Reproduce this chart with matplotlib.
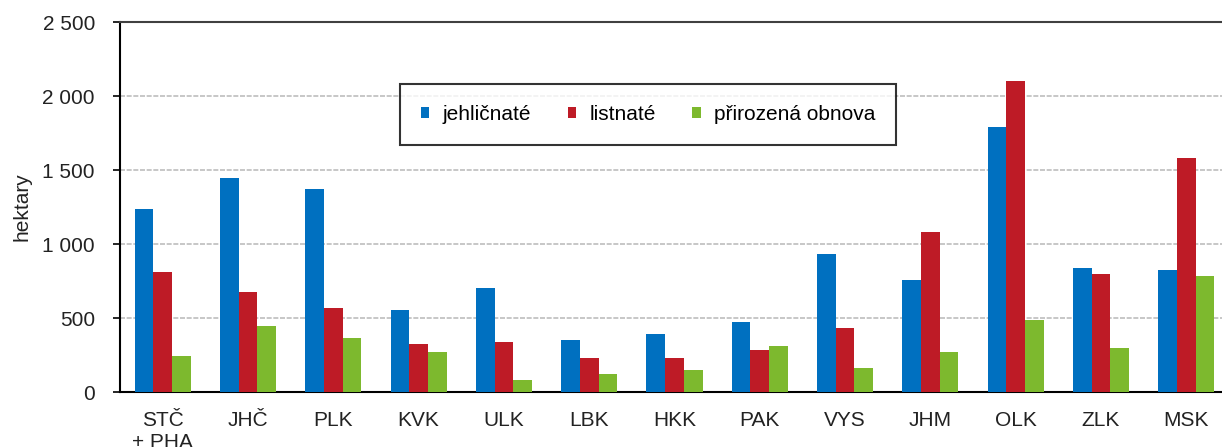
import matplotlib
matplotlib.use("Agg")
import matplotlib.pyplot as plt
from matplotlib.patches import Patch
from matplotlib.ticker import FuncFormatter
import numpy as np

plt.rcParams['font.family'] = ['Liberation Sans', 'DejaVu Sans']

categories = ["STČ\n+ PHA", "JHČ", "PLK", "KVK", "ULK", "LBK", "HKK", "PAK",
              "VYS", "JHM", "OLK", "ZLK", "MSK"]
jehlicnate = [1234, 1448, 1369, 556, 705, 353, 394, 475, 935, 759, 1788, 840, 827]
listnate = [813, 678, 570, 327, 340, 232, 232, 286, 435, 1083, 2101, 800, 1583]
prirozena = [245, 448, 367, 273, 83, 124, 151, 313, 164, 273, 489, 300, 786]
series_names = ["jehličnaté", "listnaté", "přirozená obnova"]
colors = ["#0070C0", "#BE1B26", "#7DB92E"]
yticks = [0, 500, 1000, 1500, 2000, 2500]

W, H = 1222, 447
fig = plt.figure(figsize=(W / 100, H / 100), dpi=100)
ax = fig.add_axes([120 / W, 1 - 392 / H, 1109 / W, 370 / H])

x = np.arange(len(categories))
bw = 0.219
for i, (vals, c) in enumerate(zip([jehlicnate, listnate, prirozena], colors)):
    ax.bar(x + (i - 1) * bw, vals, width=bw, color=c, zorder=3, linewidth=0)

fs = 15
ax.set_xlim(-0.5, len(categories) - 0.5)
ax.set_ylim(0, 2500)
ax.set_yticks(yticks)
ax.yaxis.set_major_formatter(FuncFormatter(lambda v, p: f"{int(v):,}".replace(",", " ")))
ax.set_xticks(x)
ax.set_xticklabels(categories)
ax.tick_params(axis='x', length=0, pad=14, labelsize=fs, colors='#222222')
ax.tick_params(axis='y', length=5, width=1.2, pad=13, labelsize=fs, colors='black',
               labelcolor='#222222')
ax.grid(axis='y', color='#bdbdbd', linestyle=(0, (3, 1)), linewidth=1.2, zorder=0)
for s in ['left', 'bottom']:
    ax.spines[s].set_linewidth(1.5)
    ax.spines[s].set_color('black')
ax.spines['top'].set_linewidth(1.5)
ax.spines['top'].set_color('#404040')
ax.spines['right'].set_visible(False)
ax.set_ylabel("hektary", fontsize=fs, labelpad=8, color='#222222')

handles = [Patch(facecolor=c, edgecolor='none') for c in colors]
leg = ax.legend(handles, series_names, ncol=3, loc='upper left',
                bbox_to_anchor=(0.2525, 0.832), borderaxespad=0,
                fontsize=fs, frameon=True, fancybox=False,
                handlelength=0.4, handleheight=0.4, handletextpad=0.65,
                columnspacing=1.75, borderpad=1.0)
leg.get_frame().set_edgecolor('black')
leg.get_frame().set_linewidth(1.5)
leg.set_zorder(5)

fig.savefig("out.png", dpi=100)
